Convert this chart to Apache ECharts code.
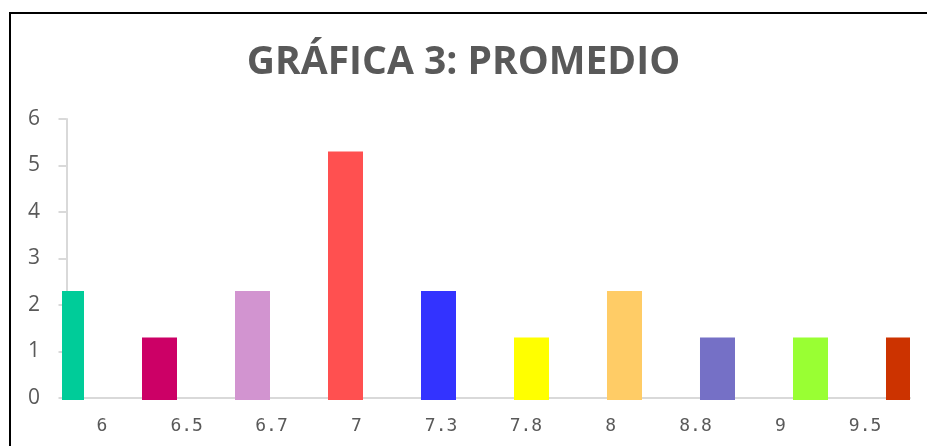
<!DOCTYPE html>
<html>
<head>
<meta charset="utf-8">
<script src="https://cdn.jsdelivr.net/npm/echarts@6/dist/echarts.min.js"></script>
<style>
    html, body { margin: 0; padding: 0; background: #fff; overflow: hidden; }
    #chart { width: 927px; height: 446px; }
    #frame { position: absolute; left: 9px; top: 12px; width: 1000px; height: 1000px; border: 2px solid #000; pointer-events: none; }
</style>
</head>
<body>
<div id="chart"></div>
<div id="frame"></div>
<script>
// datos de la gráfica
const categories = ['6', '6.5', '6.7', '7', '7.3', '7.8', '8', '8.8', '9', '9.5']
const promedio = [2.3, 1.3, 2.3, 5.3, 2.3, 1.3, 2.3, 1.3, 1.3, 1.3]
const yTicks = [0, 1, 2, 3, 4, 5, 6]

const barColors = ['#00CC99', '#CC0066', '#D294D0', '#FF5050', '#3333FF',
                   '#FFFF00', '#FFCC66', '#7570C6', '#99FF33', '#CC3300']

const chart = echarts.init(document.getElementById('chart'))

// barras recortadas al área del gráfico (como en Excel)
function renderBar(params, api) {
    const i = api.value(0)
    const base = api.coord([i, 0])
    const top = api.coord([i, api.value(1)])
    const w = 35
    const cs = params.coordSys
    const rect = echarts.graphic.clipRectByRect(
        { x: base[0] - w / 2, y: top[1], width: w, height: base[1] - top[1] + 2 },
        { x: cs.x, y: cs.y, width: cs.width, height: cs.height + 3 }
    )
    if (!rect) return
    return {
        type: 'rect',
        shape: rect,
        style: { fill: barColors[params.dataIndex] }
    }
}

chart.setOption({
    backgroundColor: 'transparent',
    animation: false,
    title: {
        text: 'GRÁFICA 3: PROMEDIO',
        left: 'center',
        top: 38,
        textStyle: {
            fontFamily: 'Open Sans',
            fontWeight: 'bold',
            fontSize: 39,
            color: '#595959'
        }
    },
    grid: {
        left: 62,
        right: 17,
        top: 119,
        bottom: 48
    },
    xAxis: [
        {
            // eje de etiquetas
            type: 'category',
            data: categories,
            position: 'bottom',
            axisLine: { lineStyle: { color: '#d9d9d9', width: 2 } },
            axisTick: { show: false },
            axisLabel: {
                margin: 19,
                padding: [0, 5, 0, 0],
                fontFamily: 'DejaVu Sans Mono',
                fontSize: 18,
                color: '#595959'
            }
        },
        {
            // posición de las barras
            type: 'value',
            show: false,
            min: -0.0484,
            max: 9.0699
        }
    ],
    yAxis: {
        type: 'value',
        min: yTicks[0],
        max: yTicks[yTicks.length - 1],
        interval: 1,
        splitLine: { show: false },
        axisLine: { show: true, lineStyle: { color: '#d9d9d9', width: 2 } },
        axisTick: { show: true, length: 8, lineStyle: { color: '#d9d9d9', width: 2 } },
        axisLabel: {
            margin: 22,
            fontFamily: 'Open Sans',
            fontSize: 21,
            color: '#595959'
        }
    },
    series: [
        {
            name: 'PROMEDIO',
            type: 'custom',
            xAxisIndex: 1,
            z: 1,
            renderItem: renderBar,
            encode: { x: 0, y: 1 },
            data: promedio.map((v, i) => [i, v])
        }
    ]
})
</script>
</body>
</html>
